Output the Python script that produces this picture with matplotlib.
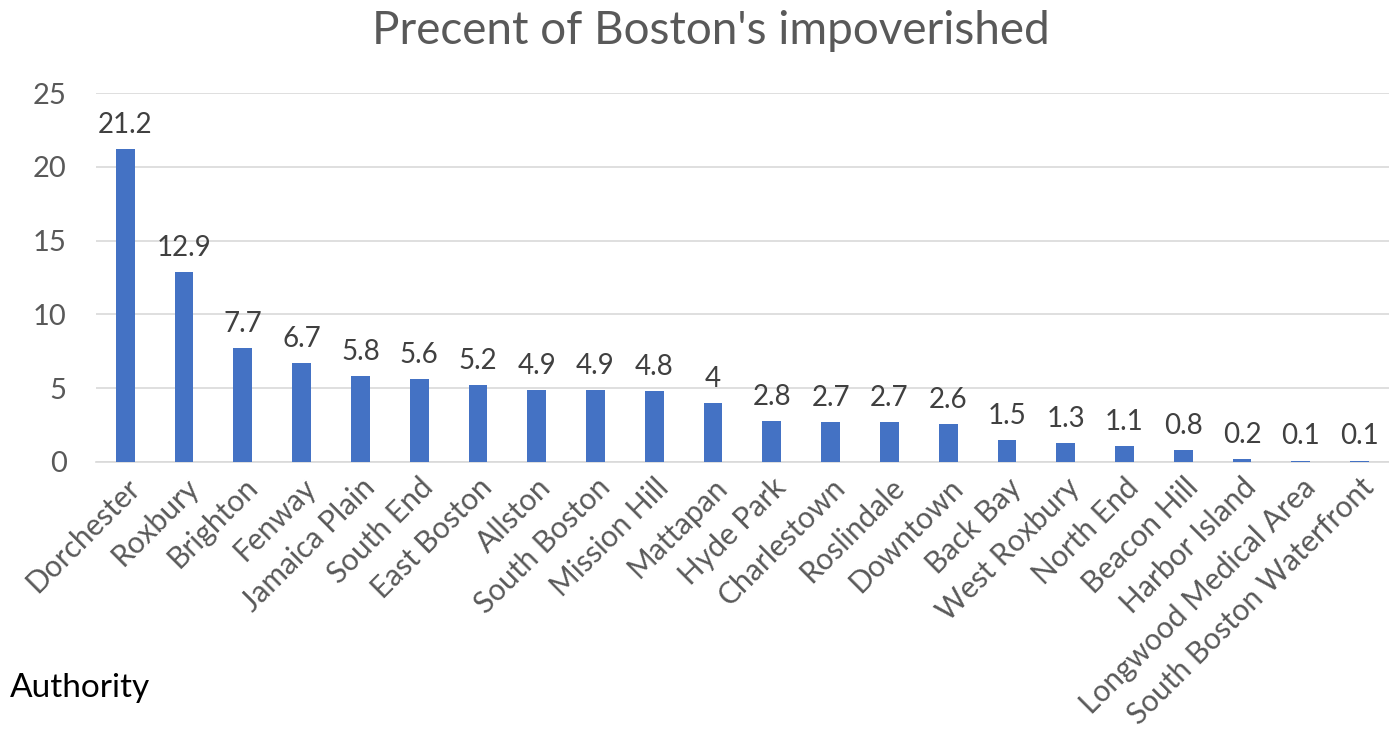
import matplotlib
matplotlib.use("Agg")
import matplotlib.pyplot as plt

categories = ["Dorchester", "Roxbury", "Brighton", "Fenway", "Jamaica Plain", "South End",
              "East Boston", "Allston", "South Boston", "Mission Hill", "Mattapan", "Hyde Park",
              "Charlestown", "Roslindale", "Downtown", "Back Bay", "West Roxbury", "North End",
              "Beacon Hill", "Harbor Island", "Longwood Medical Area", "South Boston Waterfront"]
values = [21.2, 12.9, 7.7, 6.7, 5.8, 5.6, 5.2, 4.9, 4.9, 4.8, 4, 2.8, 2.7, 2.7, 2.6, 1.5,
          1.3, 1.1, 0.8, 0.2, 0.1, 0.1]
labels = ["21.2", "12.9", "7.7", "6.7", "5.8", "5.6", "5.2", "4.9", "4.9", "4.8", "4", "2.8",
          "2.7", "2.7", "2.6", "1.5", "1.3", "1.1", "0.8", "0.2", "0.1", "0.1"]
yticks = [0, 5, 10, 15, 20, 25]

plt.rcParams['font.family'] = ['Lato', 'DejaVu Sans']

fig = plt.figure(figsize=(13.89, 7.34), dpi=100)
ax = fig.add_axes([0.069, 0.3706, 0.931, 0.5024])
x = list(range(len(categories)))
ax.bar(x, values, width=0.32, color="#4472C4", zorder=3)
for xi, v, lab in zip(x, values, labels):
    ax.text(xi, v + 0.75, lab, ha="center", va="bottom", fontsize=20, color="#404040")

ax.set_ylim(0, 25)
ax.set_xlim(-0.5, len(categories) - 0.5)
ax.set_yticks(yticks)
ax.set_yticklabels([str(t) for t in yticks], fontsize=21, color="#595959")
ax.set_xticks(x)
ax.set_xticklabels(categories, rotation=45, ha="right", rotation_mode="anchor",
                   fontsize=21.5, color="#595959")
ax.tick_params(axis="x", length=0, pad=8)
ax.tick_params(axis="y", length=0, pad=21)
ax.grid(axis="y", color="#D9D9D9", linewidth=1.2, zorder=0)
for s in ["top", "right", "left"]:
    ax.spines[s].set_visible(False)
ax.spines["bottom"].set_color("#D9D9D9")
ax.spines["bottom"].set_linewidth(1.2)

fig.text(0.512, 0.958, "Precent of Boston's impoverished", ha="center", va="center",
         fontsize=33, color="#595959")
fig.text(0.007, 0.063, "Authority", ha="left", va="center", fontsize=24, color="black")

fig.savefig("out.png", dpi=100)
